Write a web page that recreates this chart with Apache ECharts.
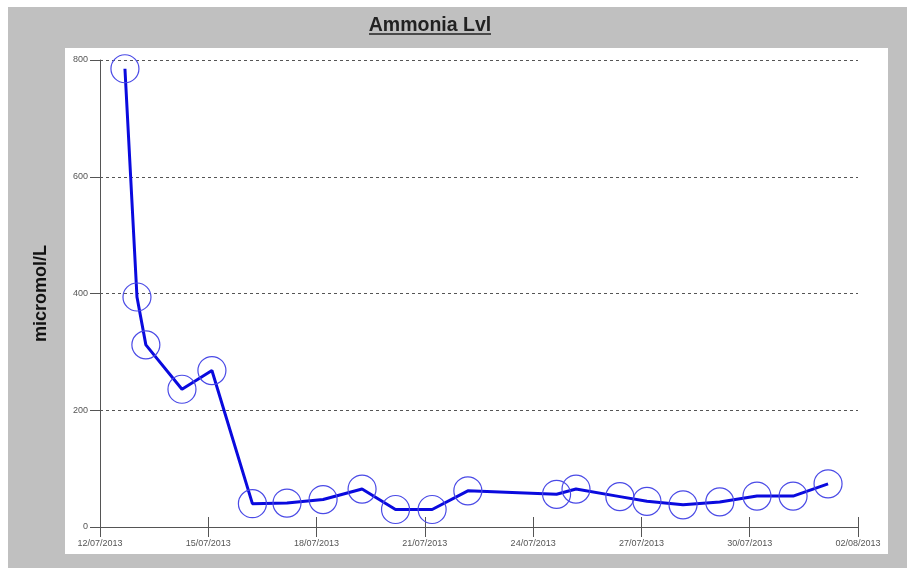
<!DOCTYPE html>
<html>
<head>
<meta charset="utf-8">
<script src="https://cdn.jsdelivr.net/npm/echarts@6/dist/echarts.min.js"></script>
<style>html,body{margin:0;padding:0;background:#fff;}#c{width:907px;height:568px;}</style>
</head>
<body>
<div id="c"></div>
<script>
// Sample times and ammonia values (micromol/L)
var sampleTimes = ["2013-07-12 16:35", "2013-07-13 00:35", "2013-07-13 06:30", "2013-07-14 06:30",
  "2013-07-15 02:25", "2013-07-16 05:20", "2013-07-17 04:20", "2013-07-18 04:20", "2013-07-19 06:15",
  "2013-07-20 04:30", "2013-07-21 04:50", "2013-07-22 04:35", "2013-07-24 15:35", "2013-07-25 04:30",
  "2013-07-26 09:40", "2013-07-27 03:40", "2013-07-28 03:40", "2013-07-29 04:05", "2013-07-30 04:50",
  "2013-07-31 04:50", "2013-08-01 04:05"];
var ammoniaValues = [785, 394, 312, 236, 268, 40, 41, 47, 65, 30, 30, 62, 56, 65, 52, 44, 38, 43, 53, 53, 74];
var xStartDate = "2013-07-12 00:00";
var xEndDate = "2013-08-02 00:00";
var yTicks = [0, 200, 400, 600, 800];

var DAY = 86400000;
function parseT(s) {
  var p = s.split(" "), d = p[0].split("-"), t = p[1].split(":");
  return Date.UTC(+d[0], +d[1] - 1, +d[2], +t[0], +t[1]);
}
var t0 = parseT(xStartDate);
var span = (parseT(xEndDate) - t0) / DAY;
function pad(n) { return (n < 10 ? "0" : "") + n; }
function fmt(v) {
  var d = new Date(t0 + Math.round(v) * DAY);
  return pad(d.getUTCDate()) + "/" + pad(d.getUTCMonth() + 1) + "/" + d.getUTCFullYear();
}
var data = sampleTimes.map(function (s, i) { return [(parseT(s) - t0) / DAY, ammoniaValues[i]]; });

var chart = echarts.init(document.getElementById("c"), null, { renderer: "canvas" });
var font = "Liberation Sans, Arial, sans-serif";
chart.setOption({
  animation: false,
  backgroundColor: "transparent",
  graphic: [
    { type: "rect", z: -100, silent: true, shape: { x: 8, y: 7, width: 899, height: 561 }, style: { fill: "#c0c0c0" } },
    { type: "rect", z: -99, silent: true, shape: { x: 65, y: 48, width: 823, height: 506 }, style: { fill: "#ffffff" } },
    { type: "line", z: 10, silent: true, shape: { x1: 369, y1: 34, x2: 491, y2: 34 }, style: { stroke: "#222", lineWidth: 1.5 } }
  ],
  title: {
    text: "Ammonia Lvl",
    left: 425, textAlign: "center", top: 11,
    textStyle: { fontFamily: font, fontSize: 19.5, fontWeight: "bold", color: "#222" }
  },
  grid: { left: 100, top: 60, right: 49, bottom: 41, containLabel: false },
  xAxis: [{
    type: "value", min: 0, max: span, interval: 3,
    axisLine: { show: true, lineStyle: { color: "#555", width: 1 } },
    axisTick: { show: true, inside: false, length: 10, lineStyle: { color: "#555" } },
    axisLabel: { formatter: fmt, margin: 12, fontFamily: font, fontSize: 9, color: "#555", showMinLabel: true, showMaxLabel: true },
    splitLine: { show: false }
  }, {
    type: "value", min: 0, max: span, interval: 3, position: "bottom",
    axisLine: { show: false },
    axisTick: { show: true, inside: true, length: 10, lineStyle: { color: "#555" } },
    axisLabel: { show: false },
    splitLine: { show: false }
  }],
  yAxis: {
    type: "value", min: yTicks[0], max: yTicks[yTicks.length - 1], interval: 200,
    name: "micromol/L", nameLocation: "middle", nameGap: 50, nameRotate: 90,
    nameTextStyle: { fontFamily: font, fontSize: 18, fontWeight: "bold", color: "#111" },
    axisLine: { show: true, lineStyle: { color: "#555", width: 1 } },
    axisTick: { show: true, length: 10, lineStyle: { color: "#555" } },
    axisLabel: { margin: 12, fontFamily: font, fontSize: 9, color: "#555" },
    splitLine: { show: true, lineStyle: { color: "#555", type: [3, 3], width: 1 } }
  },
  series: [{
    type: "line",
    data: data,
    xAxisIndex: 0,
    symbol: "circle",
    symbolSize: 28,
    showAllSymbol: true,
    lineStyle: { color: "#0a0ade", width: 3 },
    itemStyle: { color: "rgba(0,0,0,0)", borderColor: "#4a4ae6", borderWidth: 1.2 },
    z: 3
  }]
});
</script>
</body>
</html>
